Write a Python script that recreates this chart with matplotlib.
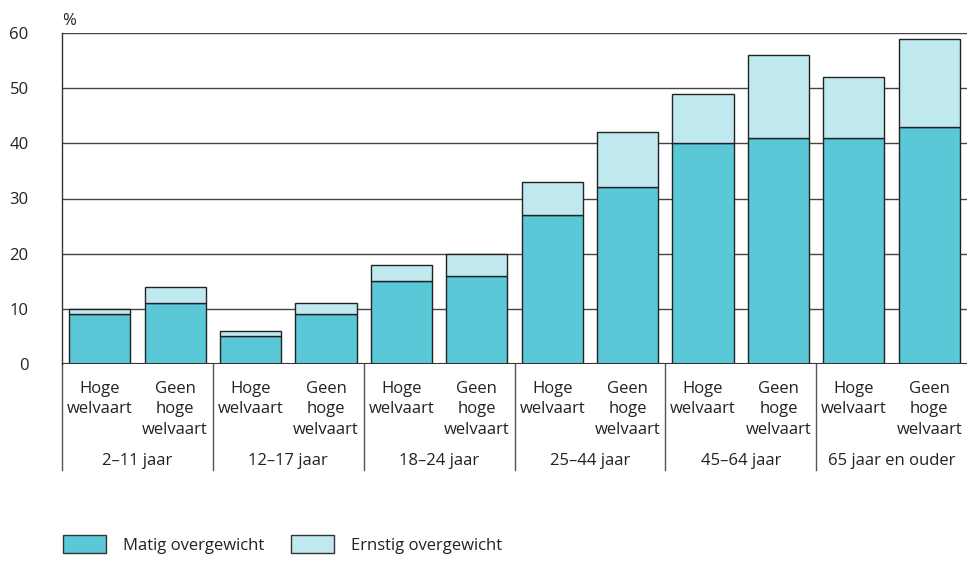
import matplotlib.pyplot as plt
import numpy as np
from matplotlib.patches import Patch
from matplotlib.transforms import blended_transform_factory

plt.rcParams['font.family'] = ['Open Sans', 'DejaVu Sans']

# data (percent)
groups = ['2–11 jaar', '12–17 jaar', '18–24 jaar', '25–44 jaar', '45–64 jaar', '65 jaar en ouder']
bar_labels = ['Hoge\nwelvaart', 'Geen\nhoge\nwelvaart'] * 6
matig = [9, 11, 5, 9, 15, 16, 27, 32, 40, 41, 41, 43]
ernstig = [1, 3, 1, 2, 3, 4, 6, 10, 9, 15, 11, 16]

c_matig = '#5bc8d8'
c_ernstig = '#c0e9ef'
edge = '#222222'
txt = '#222222'
fs = 12

fig = plt.figure(figsize=(9.67, 5.62), dpi=100)
ax = fig.add_axes([62 / 967, 198 / 562, 905 / 967, 331 / 562])

x = np.arange(len(matig))
width = 0.81
ax.bar(x, matig, width, color=c_matig, edgecolor=edge, linewidth=1, zorder=3)
ax.bar(x, ernstig, width, bottom=matig, color=c_ernstig, edgecolor=edge, linewidth=1, zorder=3)

ax.set_xlim(-0.5, len(matig) - 0.5)
ax.set_ylim(0, 60)
ax.set_yticks(range(0, 61, 10))
ax.yaxis.grid(True, color='#444444', linewidth=1)
ax.set_axisbelow(True)
for s in ['top', 'right', 'bottom']:
    ax.spines[s].set_visible(False)
ax.spines['left'].set_color('#333333')
ax.spines['left'].set_linewidth(1)
ax.axhline(0, color='#333333', linewidth=1.5, zorder=4)

ax.tick_params(axis='y', length=0, pad=24, labelsize=fs, labelcolor=txt)
ax.tick_params(axis='x', length=0, pad=12, labelsize=fs, labelcolor=txt)
ax.set_xticks(x)
ax.set_xticklabels(bar_labels, linespacing=1.4, va='top', ha='center')

ax.text(0, 1.012, '%', transform=ax.transAxes, fontsize=fs, color=txt, ha='left', va='bottom')

trans = blended_transform_factory(ax.transData, ax.transAxes)
for i, g in enumerate(groups):
    x0 = 2 * i - 0.5
    ax.plot([x0, x0], [0, -106 / 331], transform=trans, color='#555555', linewidth=1, clip_on=False)
    ax.text(2 * i + 0.5, -101 / 331, g, transform=trans, ha='center', va='baseline',
            fontsize=fs, color=txt)

handles = [Patch(facecolor=c_matig, edgecolor='#333333', label='Matig overgewicht'),
           Patch(facecolor=c_ernstig, edgecolor='#333333', label='Ernstig overgewicht')]
fig.legend(handles=handles, loc='lower left', bbox_to_anchor=(48 / 967, -0.012), ncol=2, frameon=False,
           fontsize=fs, handlelength=2.6, handleheight=1.3, handletextpad=1.0, columnspacing=1.6,
           labelcolor=txt)

plt.savefig('out.png', dpi=100)
